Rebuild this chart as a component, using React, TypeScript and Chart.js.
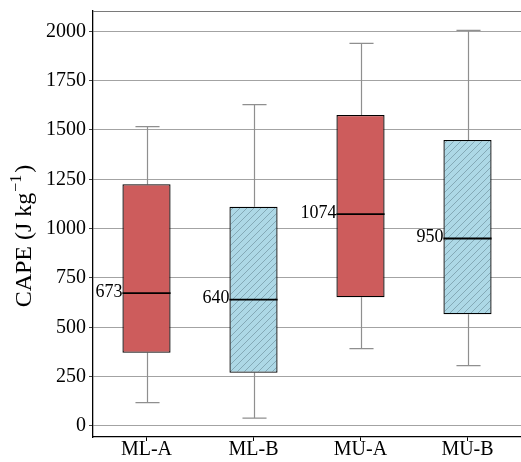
import { useEffect, useRef } from 'react';
import { Chart, registerables } from 'chart.js';
Chart.register(...registerables);

const categories = ['ML-A', 'ML-B', 'MU-A', 'MU-B'];
const whiskerLow = [118, 40, 392, 306];
const q1 = [371, 270, 652, 566];
const median = [673, 640, 1074, 950];
const q3 = [1225, 1111, 1576, 1449];
const whiskerHigh = [1517, 1628, 1939, 2005];
const medianLabels = ['673', '640', '1074', '950'];
const yTicks = [0, 250, 500, 750, 1000, 1250, 1500, 1750, 2000];
const yMin = -56;
const yMax = 2103;
const hatched = [false, true, false, true];

const FONT = '"Liberation Serif", "DejaVu Serif", serif';

function makeHatch(): CanvasPattern | string {
  const s = 7;
  const c = document.createElement('canvas');
  c.width = s;
  c.height = s;
  const g = c.getContext('2d');
  if (!g) return '#add8e6';
  g.fillStyle = '#add8e6';
  g.fillRect(0, 0, s, s);
  g.strokeStyle = 'rgba(70,100,110,0.5)';
  g.lineWidth = 0.8;
  g.beginPath();
  g.moveTo(-1, s + 1);
  g.lineTo(s + 1, -1);
  g.moveTo(-1, 1);
  g.lineTo(1, -1);
  g.moveTo(s - 1, s + 1);
  g.lineTo(s + 1, s - 1);
  g.stroke();
  const p = g.createPattern(c, 'repeat');
  return p || '#add8e6';
}

const boxPlugin = {
  id: 'boxExtras',
  beforeDatasetsDraw(chart: any) {
    const { ctx, scales } = chart;
    const x = scales.x;
    const y = scales.y;
    const meta = chart.getDatasetMeta(0);
    ctx.save();
    ctx.strokeStyle = '#8f8f8f';
    ctx.lineWidth = 1.2;
    meta.data.forEach((bar: any, i: number) => {
      const cx = Math.round(x.getPixelForValue(i)) + 0.5;
      const half = bar.width / 4;
      const yl = y.getPixelForValue(whiskerLow[i]);
      const yq1 = y.getPixelForValue(q1[i]);
      const yq3 = y.getPixelForValue(q3[i]);
      const yh = y.getPixelForValue(whiskerHigh[i]);
      ctx.beginPath();
      ctx.moveTo(cx, yq1);
      ctx.lineTo(cx, yl);
      ctx.moveTo(cx - half, yl);
      ctx.lineTo(cx + half, yl);
      ctx.moveTo(cx, yq3);
      ctx.lineTo(cx, yh);
      ctx.moveTo(cx - half, yh);
      ctx.lineTo(cx + half, yh);
      ctx.stroke();
    });
    ctx.restore();
  },
  afterDatasetsDraw(chart: any) {
    const { ctx, scales } = chart;
    const y = scales.y;
    const meta = chart.getDatasetMeta(0);
    ctx.save();
    meta.data.forEach((bar: any, i: number) => {
      const left = bar.x - bar.width / 2;
      const right = bar.x + bar.width / 2;
      const ym = y.getPixelForValue(median[i]);
      ctx.strokeStyle = '#000';
      ctx.lineWidth = 1.8;
      ctx.beginPath();
      ctx.moveTo(left, ym);
      ctx.lineTo(right, ym);
      ctx.stroke();
      ctx.fillStyle = '#000';
      ctx.font = `normal 18px ${FONT}`;
      ctx.textAlign = 'right';
      ctx.textBaseline = 'middle';
      ctx.fillText(medianLabels[i], left, ym - 1);
    });
    ctx.restore();
  },
  afterDraw(chart: any) {
    const { ctx, chartArea } = chart;
    ctx.save();
    ctx.strokeStyle = '#7a7a7a';
    ctx.lineWidth = 1.2;
    ctx.beginPath();
    ctx.moveTo(chartArea.left, chartArea.top + 0.5);
    ctx.lineTo(chartArea.right, chartArea.top + 0.5);
    ctx.stroke();
    const cx = 25;
    const cy = 236;
    ctx.translate(cx, cy);
    ctx.rotate(-Math.PI / 2);
    ctx.fillStyle = '#000';
    ctx.textBaseline = 'middle';
    ctx.textAlign = 'left';
    const main = `normal 24px ${FONT}`;
    const sup = `normal 16px ${FONT}`;
    const p1 = 'CAPE (J kg';
    const p2 = '\u22121';
    const p3 = ')';
    ctx.font = main;
    const w1 = ctx.measureText(p1).width;
    const w3 = ctx.measureText(p3).width;
    ctx.font = sup;
    const w2 = ctx.measureText(p2).width;
    const total = w1 + w2 + w3 + 3;
    let xx = -total / 2;
    ctx.font = main;
    ctx.fillText(p1, xx, 0);
    xx += w1 + 1;
    ctx.font = sup;
    ctx.fillText(p2, xx, -8);
    xx += w2 + 2;
    ctx.font = main;
    ctx.fillText(p3, xx, 0);
    ctx.restore();
  },
};

export default function App() {
  const ref = useRef<HTMLCanvasElement | null>(null);
  useEffect(() => {
    const canvas = ref.current;
    if (!canvas) return;
    const hatch = makeHatch();
    const colors = hatched.map((h) => (h ? hatch : '#cd5c5c'));
    const chart = new Chart(canvas, {
      type: 'bar',
      data: {
        labels: categories,
        datasets: [
          {
            data: categories.map((_, i) => [q1[i], q3[i]]) as any,
            backgroundColor: colors as any,
            borderColor: '#000',
            borderWidth: 1.3,
            borderSkipped: false,
            barPercentage: 0.45,
            categoryPercentage: 1,
          },
        ],
      },
      options: {
        animation: false,
        responsive: false,
        maintainAspectRatio: false,
        layout: { padding: { top: 11, right: 0, left: 0, bottom: 0 } },
        plugins: {
          legend: { display: false },
          tooltip: { enabled: false },
        },
        scales: {
          x: {
            type: 'category',
            offset: true,
            grid: {
              drawOnChartArea: false,
              drawTicks: true,
              tickLength: 4,
              tickColor: '#000',
              offset: false,
            },
            border: { color: '#000', width: 1.3 },
            ticks: {
              color: '#000',
              font: { family: FONT, size: 20 },
              padding: -3,
              maxRotation: 0,
            },
            afterFit(scale: any) {
              scale.height = 25;
              scale.paddingLeft = 0;
              scale.paddingRight = 0;
            },
          },
          y: {
            type: 'linear',
            min: yMin,
            max: yMax,
            grid: {
              color: '#a3a3a3',
              lineWidth: 1,
              tickLength: 4,
              tickColor: '#444',
            },
            border: { color: '#000', width: 1.3 },
            ticks: {
              color: '#000',
              font: { family: FONT, size: 20 },
              padding: 3,
              callback: (v: any) => String(v),
            },
            afterBuildTicks(scale: any) {
              scale.ticks = yTicks.map((v) => ({ value: v }));
            },
            afterFit(scale: any) {
              scale.width = 93;
              scale.paddingTop = 0;
              scale.paddingBottom = 0;
            },
          },
        },
      },
      plugins: [boxPlugin],
    });
    return () => chart.destroy();
  }, []);
  return (
    <div style={{ position: 'fixed', left: 0, top: 0, width: 521, height: 462 }}>
      <canvas ref={ref} width={521} height={462} style={{ display: 'block' }} />
    </div>
  );
}
